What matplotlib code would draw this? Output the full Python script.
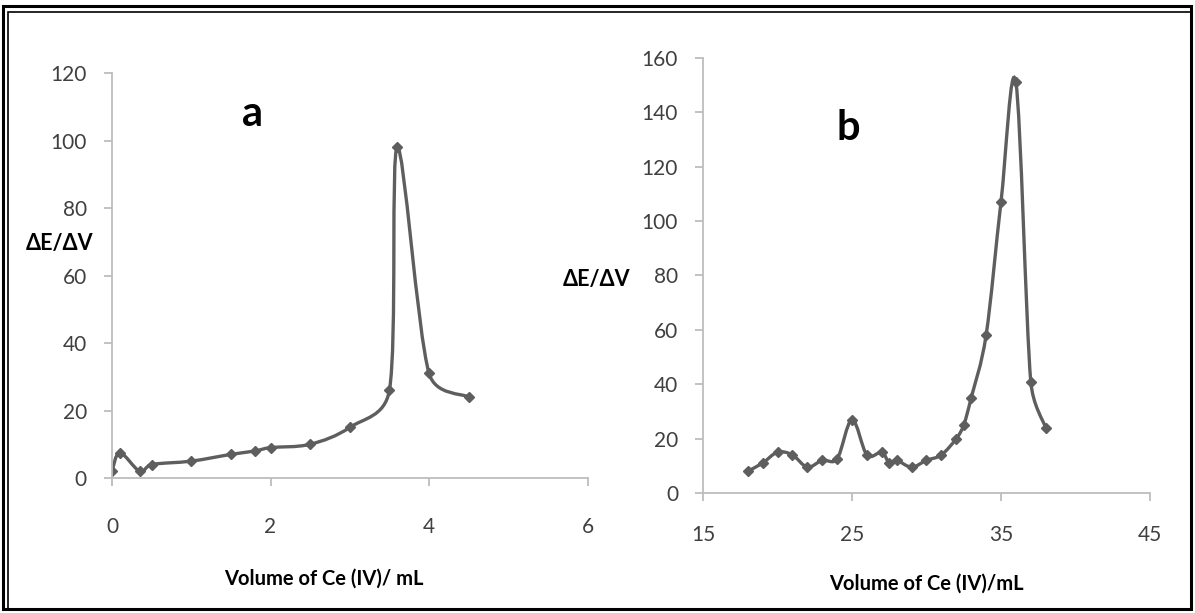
import numpy as np
import matplotlib
matplotlib.use("Agg")
from matplotlib import pyplot as plt
from matplotlib.path import Path
from matplotlib.patches import PathPatch, Rectangle

plt.rcParams['font.family'] = ['Lato', 'DejaVu Sans']

# panel a
vol_a = [0, 0.1, 0.35, 0.5, 1, 1.5, 1.8, 2, 2.5, 3, 3.5, 3.6, 4, 4.5]
dedv_a = [2, 7.5, 2, 4, 5, 7, 8, 9, 10, 15, 26, 98, 31, 24]

# panel b
vol_b = [18, 19, 20, 21, 22, 23, 24, 25, 26, 27, 27.5, 28, 29, 30, 31, 32,
         32.5, 33, 34, 35, 36, 37, 38]
dedv_b = [8, 11, 15, 14, 9.5, 12, 12.5, 27, 14, 15, 11, 12, 9.5, 12, 14, 20,
          25, 35, 58, 107, 151, 41, 24]

col = '#5e5e5e'
spine = '#bdbdbd'


def smooth_path(x, y, sx, sy):
    # excel style smoothing, worked out in pixel space (sx, sy = px per unit)
    p = np.column_stack([np.asarray(x, float) * sx, np.asarray(y, float) * sy])
    n = len(p)
    verts = [p[0]]
    codes = [Path.MOVETO]
    for i in range(n - 1):
        p0 = p[i - 1] if i > 0 else p[i]
        p1 = p[i]
        p2 = p[i + 1]
        p3 = p[i + 2] if i + 2 < n else p[i + 1]
        d02 = np.hypot(*(p2 - p0))
        d12 = np.hypot(*(p2 - p1))
        d13 = np.hypot(*(p3 - p1))
        f1 = 1 / 6 if d02 / 6 < d12 / 2 else d12 / 2 / max(d02, 1e-9)
        f2 = 1 / 6 if d13 / 6 < d12 / 2 else d12 / 2 / max(d13, 1e-9)
        c1 = p1 + f1 * (p2 - p0)
        c2 = p2 - f2 * (p3 - p1)
        verts += [c1, c2, p2]
        codes += [Path.CURVE4] * 3
    verts = np.array(verts) / [sx, sy]
    return Path(verts, codes)


def style(ax):
    for s in ['top', 'right']:
        ax.spines[s].set_visible(False)
    for s in ['left', 'bottom']:
        ax.spines[s].set_color(spine)
        ax.spines[s].set_linewidth(1.3)
    ax.tick_params(colors=spine, labelcolor='#404040', labelsize=15,
                   length=6, width=1.3, direction='out')


fig = plt.figure(figsize=(11.95, 6.13), dpi=100)

ax1 = fig.add_axes([0.0937, 0.2202, 0.398, 0.6607])
ax1.add_patch(PathPatch(smooth_path(vol_a, dedv_a, 476 / 6, 405 / 120),
                        fill=False, ec=col, lw=2.4))
ax1.plot(vol_a, dedv_a, 'D', color=col, ms=5.5)
ax1.set_xlim(0, 6)
ax1.set_ylim(0, 120)
ax1.set_xticks([0, 2, 4, 6])
ax1.set_yticks(range(0, 121, 20))
style(ax1)
ax1.tick_params(axis='x', pad=22)
ax1.tick_params(axis='y', pad=12)
ax1.set_xlabel('Volume of Ce (IV)/ mL', fontsize=14.5, fontweight='bold', labelpad=23)
ax1.xaxis.label.set_x(0.445)
ax1.text(-0.04, 0.578, 'ΔE/ΔV', transform=ax1.transAxes, fontsize=15.5,
         fontweight='bold', ha='right', va='center')
ax1.text(0.296, 0.9, 'a', transform=ax1.transAxes, fontsize=30,
         fontweight='bold', ha='center', va='center')

ax2 = fig.add_axes([0.5883, 0.1958, 0.374, 0.7096])
ax2.add_patch(PathPatch(smooth_path(vol_b, dedv_b, 447 / 30, 435 / 160),
                        fill=False, ec=col, lw=2.4))
ax2.plot(vol_b, dedv_b, 'D', color=col, ms=5.5)
ax2.set_xlim(15, 45)
ax2.set_ylim(0, 160)
ax2.set_xticks([15, 25, 35, 45])
ax2.set_yticks(range(0, 161, 20))
style(ax2)
ax2.tick_params(axis='x', pad=17)
ax2.tick_params(axis='y', pad=12)
ax2.set_xlabel('Volume of Ce (IV)/mL', fontsize=14.5, fontweight='bold', labelpad=21)
ax2.text(-0.163, 0.49, 'ΔE/ΔV', transform=ax2.transAxes, fontsize=15.5,
         fontweight='bold', ha='right', va='center')
ax2.text(0.324, 0.84, 'b', transform=ax2.transAxes, fontsize=30,
         fontweight='bold', ha='center', va='center')

# double frame around the figure
W, H = 1195, 613
fig.add_artist(Rectangle((3 / W, 4 / H), 1188 / W, 603 / H, transform=fig.transFigure,
                         fill=False, ec='black', lw=2.2))
fig.add_artist(Rectangle((8 / W, 4 / H), 1183 / W, 597 / H, transform=fig.transFigure,
                         fill=False, ec='black', lw=1.2))

fig.savefig('out.png', dpi=100)
